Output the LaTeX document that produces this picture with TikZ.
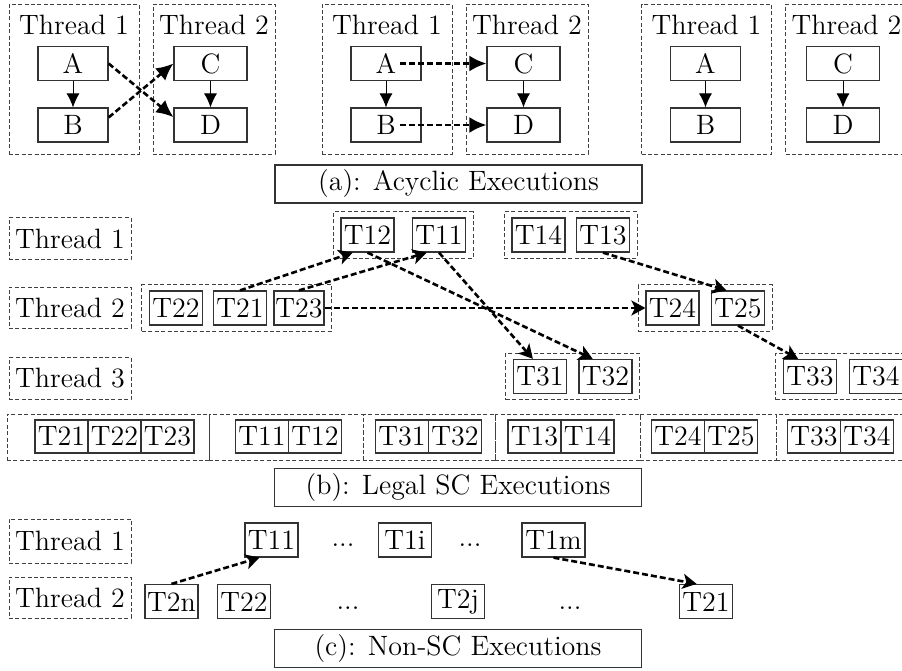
\documentclass[tikz,border=0pt]{standalone}
\usetikzlibrary{arrows.meta,positioning,fit}
\tikzset{
  ev/.style={draw=black!80, line width=0.6pt, inner sep=0pt, minimum width=26.5pt, minimum height=17pt},
  cell/.style={ev, outer sep=0pt, minimum height=16.5pt},
  thr/.style={draw=black!75, dash pattern=on 2pt off 1.2pt, line width=0.5pt, inner sep=0pt, minimum height=75pt},
  lbl/.style={thr, minimum width=61pt, minimum height=21pt},
  grp/.style={draw=black!75, dash pattern=on 2pt off 1.2pt, line width=0.5pt, inner xsep=3.5pt, inner ysep=2.75pt},
  slot/.style={thr, minimum height=23pt},
  capbox/.style={draw=black!80, line width=0.6pt, inner sep=0pt, minimum width=183.5pt, minimum height=19pt},
  po/.style={-{Latex[length=7pt,width=6.5pt]}, line width=0.5pt},
  sync/.style={-{Latex[length=8.5pt,width=8pt]}, line width=1.3pt, dash pattern=on 3pt off 1.5pt},
  dep/.style={-{Stealth[length=7pt,width=7.5pt,inset=1.8pt]}, line width=1.3pt, dash pattern=on 3pt off 1.5pt}
}
\begin{document}
\begin{tikzpicture}[x=0.5pt, y=-0.5pt, font=\fontsize{14}{16}\selectfont]
  \useasboundingbox (0,0) rectangle (902,671);

  \foreach \g/\dx in {1/0, 2/313, 3/632.5} {
    \node[thr, minimum width=65pt] (th1\g) at ({74+\dx},79) {};
    \node[thr, minimum width=61pt] (th2\g) at ({214+\dx},79) {};
    \node (tn1\g) at ({74+\dx},25) {Thread 1};
    \node (tn2\g) at ({214+\dx},25) {Thread 2};
    \node[ev, minimum width=35pt] (A\g) at ({73+\dx},63.5) {A};
    \node[ev, minimum width=35pt] (B\g) at ({73+\dx},125) {B};
    \node[ev, minimum width=36.5pt] (C\g) at ({210.5+\dx},63.5) {C};
    \node[ev, minimum width=36.5pt] (D\g) at ({210.5+\dx},125) {D};
    \draw[po] (A\g) -- (B\g);
    \draw[po] (C\g) -- (D\g);
  }
  \draw[sync] (A1.east) -- (D1.168);
  \draw[sync] (B1.12) -- (C1.west);
  \draw[sync, shorten <=7pt] (A2.center) -- (C2.west);
  \draw[sync, shorten <=7pt] (B2.center) -- (D2.west);
  \node[capbox] (capa) at (458.5,184) {(a): Acyclic Executions};

  \node[lbl] (lb1) at (70,238.5) {Thread 1};
  \node[lbl, minimum height=20.5pt] (lb2) at (70,307.5) {Thread 2};
  \node[lbl] (lb3) at (70,378.5) {Thread 3};

  \node[ev] (T12) at (367.5,235) {T12};
  \node[ev] (T11) at (439,235) {T11};
  \node[ev] (T14) at (538.5,235) {T14};
  \node[ev] (T13) at (603,235) {T13};
  \node[ev] (T22) at (176,308) {T22};
  \node[ev] (T21) at (240,308) {T21};
  \node[ev, minimum width=25pt] (T23) at (299,308) {T23};
  \node[ev] (T24) at (672.5,308) {T24};
  \node[ev] (T25) at (738,308) {T25};
  \node[ev] (T31) at (540,376.5) {T31};
  \node[ev] (T32) at (605.5,376.5) {T32};
  \node[ev] (T33) at (810,376.5) {T33};
  \node[ev] (T34) at (876,376.5) {T34};
  \node[grp, fit=(T12)(T11)] (g11) {};
  \node[grp, fit=(T14)(T13)] (g12) {};
  \node[grp, fit=(T22)(T23)] (g21) {};
  \node[grp, fit=(T24)(T25)] (g22) {};
  \node[grp, fit=(T31)(T32)] (g31) {};
  \node[grp, fit=(T33)(T34)] (g32) {};
  \draw[dep] (T21.north) -- (T12.230);
  \draw[dep] (T23.north) -- (T11.235);
  \draw[dep] (T12.south) -- (T32.126);
  \draw[dep] (T11.south) -- (T31.112);
  \draw[dep] (T23.east) -- (T24.west);
  \draw[dep] (T13.south) -- (T25.123);
  \draw[dep] (T25.south) -- (T33.124);

  \node[slot, minimum width=101pt] (r1) at (108,437) {};
  \node[slot, minimum width=77pt] (r2) at (286,437) {};
  \node[slot, minimum width=66pt] (r3) at (429,437) {};
  \node[slot, minimum width=72.5pt] (r4) at (567.5,437) {};
  \node[slot, minimum width=68pt] (r5) at (708,437) {};
  \node[slot, minimum width=67pt] (r6) at (843,437) {};
  \node[cell] (s21) at (61.5,436.5) {T21};
  \node[cell, right=0pt of s21] (s22) {T22};
  \node[cell, right=0pt of s22] (s23) {T23};
  \node[cell] (s11) at (262,436.5) {T11};
  \node[cell, right=0pt of s11] (s12) {T12};
  \node[cell] (s31) at (402,436.5) {T31};
  \node[cell, right=0pt of s31] (s32) {T32};
  \node[cell] (s13) at (534.5,436.5) {T13};
  \node[cell, right=0pt of s13] (s14) {T14};
  \node[cell] (s24) at (678,436.5) {T24};
  \node[cell, right=0pt of s24] (s25) {T25};
  \node[cell] (s33) at (814,436.5) {T33};
  \node[cell, right=0pt of s33] (s34) {T34};
  \node[capbox] (capb) at (458,487.5) {(b): Legal SC Executions};

  \node[lbl, minimum height=22pt] (lc1) at (70,541) {Thread 1};
  \node[lbl, minimum height=20.5pt] (lc2) at (70,597.5) {Thread 2};
  \node[ev] (c11) at (271.5,540) {T11};
  \node (d11) at (343,545) {...};
  \node[ev] (c1i) at (405,540) {T1i};
  \node (d12) at (470,545) {...};
  \node[ev, minimum width=31.5pt] (c1m) at (553.5,540) {T1m};
  \node[ev] (c2n) at (171.5,601.5) {T2n};
  \node[ev] (c22) at (244,601.5) {T22};
  \node (d21) at (348,608) {...};
  \node[ev] (c2j) at (458,601.5) {T2j};
  \node (d22) at (570,608) {...};
  \node[ev] (c21) at (706,601.5) {T21};
  \draw[dep] (c2n.north) -- (c11.236);
  \draw[dep] (c1m.south) -- (c21.118);
  \node[capbox] (capc) at (458,648.5) {(c): Non-SC Executions};
\end{tikzpicture}
\end{document}
